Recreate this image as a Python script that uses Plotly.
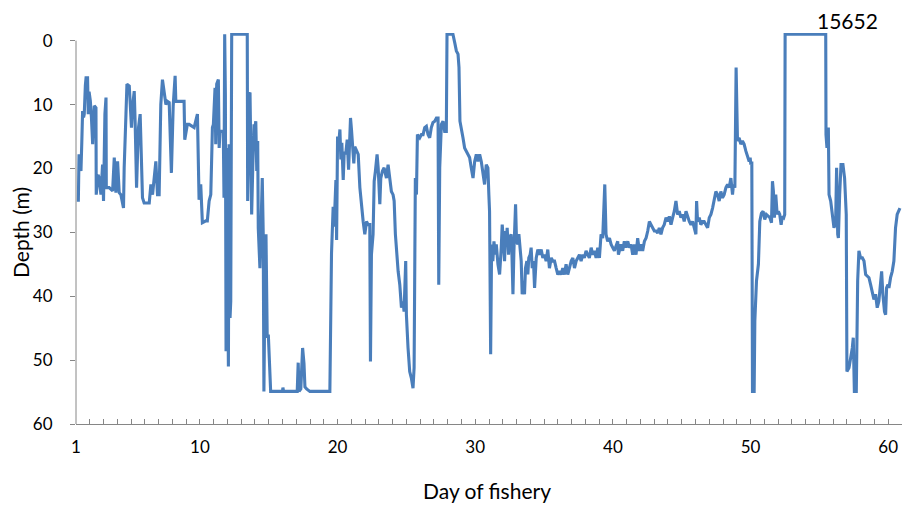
import plotly.graph_objects as go

# ---- data: day of fishery vs depth (m) ----
days_a = [1.17,1.22,1.30,1.36,1.42,1.48,1.55,1.60,1.68,1.73,1.84,1.89,1.95,2.04,2.12,2.21,2.33,2.45,2.47,2.60,
          2.69,2.75,2.81,2.93,3.00,3.10,3.18,3.20,3.41,3.66,3.78,3.90,4.02,4.14,4.26,4.45,4.50,4.63,4.70,4.87,
          4.94,5.03,5.10,5.23,5.30,5.40,5.47,5.54,5.66,5.76,5.83,5.95,6.32,6.44,6.56,6.80,6.92,7.04,7.16,7.28,
          7.40,7.53,7.64,7.77,7.93,8.06,8.20,8.25,8.49,8.85,8.90,9.09,9.22,9.58,9.82,9.87,9.94,10.06,10.18,10.43,
          10.54,10.67,10.79,10.91,10.98]
depth_a = [25.2,17.8,19.5,20.4,16.0,11.0,12.0,11.5,7.0,5.8,5.8,11.5,8.0,9.4,12.0,16.2,10.2,10.5,24.1,21.0,
           21.5,23.5,24.1,19.4,25.1,11.5,8.9,23.0,23.0,23.5,18.3,23.8,18.9,23.8,24.1,26.2,19.9,11.5,6.8,7.1,
           10.0,13.6,10.5,7.9,13.1,23.0,17.8,13.6,11.5,19.9,24.6,25.4,25.4,22.5,24.1,18.9,24.1,24.1,10.0,6.1,
           7.9,10.0,9.5,9.7,20.7,10.2,5.5,9.5,9.5,9.5,15.5,13.1,13.1,13.6,11.5,17.8,24.9,22.5,28.5,28.2,
           28.2,25.1,24.1,13.6,13.1]

days_b = [11.10,11.15,11.22,11.34,11.40,11.46,11.70,11.75,11.80,11.85,11.90,11.95,12.07,12.12,12.19,12.24,12.31,13.44,13.47,13.57,
          13.64,13.76,13.84,13.93,14.00,14.06,14.13,14.20,14.24,14.36,14.44,14.53,14.60,14.65,14.73,14.80,14.89,14.97,15.14,16.00,
          16.03,16.08,17.07,17.14,17.20,17.33,17.46,17.56,17.63,17.75,17.99,19.44]
depth_b = [7.4,16.2,6.8,6.1,16.8,14.2,14.2,24.6,-1.0,8.4,48.6,16.8,51.0,16.2,43.4,40.8,-1.0,-1.0,25.1,8.4,
           8.1,27.2,19.9,13.1,13.6,12.6,20.4,15.7,29.3,35.6,29.3,21.5,30.3,54.9,37.1,30.3,46.5,46.0,54.9,54.9,
           54.3,54.9,54.9,50.4,54.9,54.5,48.1,50.5,54.2,54.5,54.9,54.9]

days_c = [19.56,19.68,19.75,19.88,19.93,20.00,20.07,20.17,20.24,20.31,20.41,20.48,20.60,20.70,20.80,20.84,20.94,21.01,21.09,21.18,
          21.25,21.38,
          21.50,21.62,21.74,21.86,21.98,22.10,22.22,22.34,22.39,22.46,22.58,22.66,22.75,22.87,22.95,23.07,23.14,23.26,23.38,23.48,
          23.55,23.67,23.79,23.91,24.03,24.11,24.20,24.28,24.40,24.52,24.64,24.76,24.83,24.95,25.00,25.12,25.24,25.36,25.48,25.56,
          25.60,25.65,25.73,25.80,25.97,26.09,26.21,26.33,26.45,26.57,26.69,26.81,26.93,27.06,27.18,27.30,27.35,27.42,27.54,27.66,
          27.78,27.90,27.95,28.38,28.51,28.63,28.75,28.82,28.89,28.99,29.11,29.23,29.35,29.47,29.59,29.71,29.84,29.96,30.08,30.20]
depth_c = [33.3,26.0,29.1,21.8,31.2,15.0,16.6,13.9,18.6,16.0,21.8,17.6,17.6,15.5,20.2,16.6,12.1,13.9,17.6,19.2,
           16.6,17.1,
           17.8,23.0,26.2,28.3,30.3,28.3,28.8,28.8,50.2,33.5,30.3,22.0,20.4,17.8,19.9,25.6,21.5,20.4,19.9,21.0,
           21.5,19.4,22.0,23.6,24.1,25.1,30.3,33.5,36.1,38.2,41.8,40.8,42.4,34.5,42.9,48.1,51.8,52.8,54.4,51.2,
           39.7,21.5,24.1,14.7,15.2,14.7,14.7,13.6,13.4,14.7,15.2,13.6,12.8,12.6,12.1,12.1,38.2,19.9,13.1,12.6,
           14.2,14.2,-1.0,-1.0,0.3,1.6,2.1,4.2,12.6,13.6,15.2,16.8,17.3,17.8,18.3,19.9,21.5,18.9,17.8,18.9]

days_d = [30.32,30.44,30.56,30.68,30.80,30.92,30.99,31.04,31.12,31.19,31.28,31.36,31.45,31.53,31.65,31.77,31.89,31.96,32.06,32.13,
          32.20,32.25,32.32,32.42,32.49,32.61,32.66,32.74,32.81,32.93,33.00,33.10,33.17,33.27,33.34,33.41,33.51,33.58,33.65,33.75,
          33.82,33.89,33.99,34.06,34.14,34.23,34.31,34.43,34.55,34.67,34.79,34.91,35.03,35.15,35.27,35.39,35.52,35.64,35.76,35.88,
          36.00,36.12,36.24,36.36,36.48,36.60,36.72,36.84,36.97,37.09,37.21,37.33,37.45,37.57,37.69,37.81,37.93,38.05,38.17,38.29,
          38.42,38.54,38.66,38.78,38.90,39.02,39.14,39.26,39.41,39.50,39.62,39.75,39.87,39.99,40.11]
depth_d = [17.8,18.9,20.4,22.5,19.4,19.9,24.1,26.7,49.1,31.9,34.5,31.4,33.5,31.9,35.0,36.6,32.4,28.8,31.9,34.5,
           29.8,31.9,29.3,33.5,30.9,30.3,32.9,39.7,32.9,25.6,31.4,31.9,30.3,32.4,34.5,39.7,37.6,39.7,35.6,34.5,
           36.6,34.0,33.5,32.4,35.6,34.5,38.7,34.0,32.7,33.5,32.7,34.0,33.5,34.5,32.7,35.6,34.0,34.5,34.5,35.6,
           36.6,36.1,36.6,35.6,36.6,35.0,36.6,35.6,34.5,34.0,35.6,34.5,34.0,33.5,34.5,33.5,34.0,32.9,33.5,34.0,
           32.4,33.5,32.9,34.0,32.4,34.0,30.3,30.9,22.5,30.3,31.4,30.9,31.9,32.4,32.9]

days_e = [40.35,40.40,40.59,40.71,40.83,40.95,41.08,41.20,41.32,41.44,41.56,41.68,41.80,41.92,42.04,42.16,42.29,42.41,42.53,42.65,
          42.77,42.89,43.01,43.13,43.25,43.37,43.49,43.61,43.73,43.86,43.98,44.10,44.22,44.34,44.46,44.58,44.70,44.82,44.94,45.06,
          45.18,45.31,45.43,45.55,45.67,45.79,45.91,46.03,46.08,46.15,46.27,46.39,46.51,46.63,46.76,46.88,47.00,47.12,47.24,47.36,
          47.48,47.60,47.72,47.84,47.96,48.08,48.21,48.33,48.45,48.57,48.69,48.76,48.86,48.95,49.05,49.17,49.29,49.41,49.53,49.66,
          49.78,49.90,49.97,50.02,50.09,50.14]
depth_e = [31.4,33.5,31.9,32.9,31.4,32.4,31.4,32.4,31.9,33.5,31.9,33.5,30.9,32.9,31.9,32.9,31.4,30.9,29.8,28.3,
           28.8,29.3,29.8,29.8,30.1,29.3,30.3,29.3,28.8,27.7,28.3,27.5,28.8,27.7,26.7,25.1,27.2,26.7,27.7,27.2,
           28.3,26.7,27.7,28.3,28.8,28.3,29.3,30.3,25.1,28.3,27.7,28.8,28.3,28.3,28.8,29.3,27.7,27.2,26.2,24.6,
           23.6,24.1,25.1,23.6,24.6,24.1,23.0,22.5,23.0,21.5,24.1,22.5,23.0,4.2,15.7,15.2,16.2,15.7,16.2,17.3,
           18.3,18.9,18.3,19.4,18.9,54.9]

days_f = [50.26,50.31,50.43,50.57,50.67,50.79,50.91,51.03,51.15,51.27,51.40,51.52,51.59,51.66,51.73,51.83,51.93,52.02,52.12,52.22,
          52.31,52.41,52.48,52.51,55.46,55.48,55.55,55.65,55.70,55.82,55.94,56.06,56.18,56.25,56.33,56.38,56.47,56.57,56.71,56.83,
          56.95,57.00,57.15,57.27,57.39,57.46,57.54,57.68,57.78,57.87,57.99,58.12,58.24,58.36,58.48,58.60,58.72,58.84,58.96,59.08,
          59.20,59.32,59.44,59.52,59.61,59.73,59.81,59.88,59.98,60.05,60.17,60.29,60.41,60.48,60.53,60.65,60.77,60.85]
depth_f = [54.9,43.9,37.6,35.0,28.3,27.0,26.7,28.0,27.2,27.5,27.7,28.5,22.0,23.6,27.7,24.1,27.2,26.7,27.2,28.8,
           27.5,27.7,27.2,-1.0,-1.0,14.7,16.8,13.6,24.1,25.1,27.7,29.3,28.3,19.9,30.3,30.9,24.1,19.4,19.4,21.5,
           27.2,51.8,51.2,49.7,48.1,46.5,54.9,54.9,37.6,32.9,34.0,34.0,34.5,36.6,36.9,37.1,38.2,39.7,40.5,39.7,
           41.8,40.8,37.6,36.1,39.7,42.4,42.9,38.7,38.2,38.7,37.1,36.1,34.5,31.4,29.3,27.2,26.4,26.2]

x_ticks = [1, 10, 20, 30, 40, 50, 60]
y_ticks = [0, 10, 20, 30, 40, 50, 60]
tag_label = "15652"

segments = [(days_a, depth_a), (days_b, depth_b), (days_c, depth_c),
            (days_d, depth_d), (days_e, depth_e), (days_f, depth_f)]
days, depths = [], []
for dx, dy in segments:
    if len(dx) != len(dy):
        raise ValueError(f"length mismatch {len(dx)} vs {len(dy)}")
    days += dx
    depths += dy

AX = "#868686"
FONT = "Lato, 'Open Sans', sans-serif"

fig = go.Figure(go.Scatter(x=days, y=depths, mode="lines",
                           line=dict(color="#4a7ebb", width=3.1),
                           hoverinfo="skip", showlegend=False))

fig.update_layout(
    width=903, height=509,
    margin=dict(l=76, r=1, t=33, b=85),
    paper_bgcolor="white", plot_bgcolor="white",
    font=dict(family=FONT, color="#000000", size=17),
    xaxis=dict(range=[1, 61], tickvals=x_ticks, ticktext=[str(v) for v in x_ticks],
               ticks="inside", ticklen=5, tickcolor=AX,
               minor=dict(ticks="inside", dtick=1, tick0=1, ticklen=5, tickcolor=AX, showgrid=False),
               showline=True, linecolor=AX, linewidth=1, showgrid=False, zeroline=False,
               ticklabelstandoff=8, tickfont=dict(size=17), automargin=False),
    yaxis=dict(range=[60, -1.2], tickvals=y_ticks, ticks="outside", ticklen=5, tickcolor=AX,
               showline=False, showgrid=False, zeroline=False,
               ticklabelstandoff=14, tickfont=dict(size=17), automargin=False),
    shapes=[dict(type="line", xref="paper", yref="y", x0=0, x1=0, y0=0, y1=60,
                 line=dict(color=AX, width=1))],
    annotations=[
        dict(text=tag_label, xref="paper", yref="paper", x=0.9346, y=1.033,
             showarrow=False, xanchor="center", yanchor="middle", font=dict(size=21)),
        dict(text="Depth (m)", xref="paper", yref="paper", x=-0.0678, y=0.491, textangle=-90,
             showarrow=False, xanchor="center", yanchor="middle", font=dict(size=21)),
        dict(text="Day of fishery", xref="paper", yref="paper", x=0.4976, y=-0.169,
             showarrow=False, xanchor="center", yanchor="middle", font=dict(size=21)),
    ],
)

fig.write_html("out.html",
               config={"displayModeBar": False, "staticPlot": True},
               post_script="document.body.style.margin='0';document.body.style.overflow='hidden';")
